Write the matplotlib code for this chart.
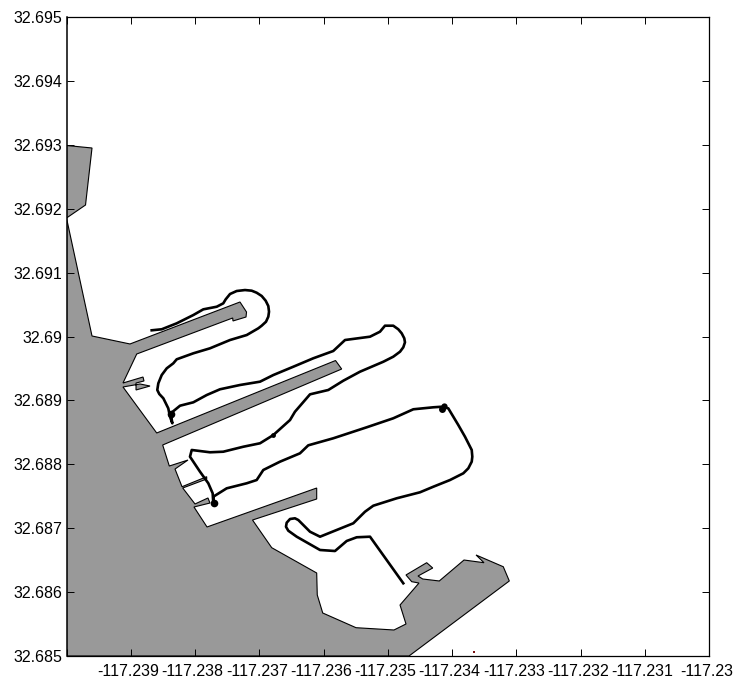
import matplotlib
matplotlib.use('Agg')
import matplotlib.pyplot as plt
from matplotlib.transforms import ScaledTranslation
import numpy as np

plt.rcParams['font.family'] = ['Liberation Sans', 'DejaVu Sans']

LON0 = -117.24
LAT0 = 32.685

# values below are thousandths of a degree from the lower left corner (LON0, LAT0)
land_lon = [0, .397, .988, 2.700, 2.802, 2.794, 2.591, 2.587, 1.093, .879, 1.191, 1.206,
            1.082, 1.082, 1.300, 1.144, .879, 1.404, 4.187, 4.283, 1.497, 1.600, 1.891,
            1.689, 1.798, 2.182, 2.182, 1.809, 2.000, 2.202, 2.233, 1.984, 2.187, 3.894,
            3.894, 2.895, 3.194, 3.894, 3.903, 3.988, 4.506, 5.097, 5.284, 5.191, 5.486,
            5.373, 5.284, 5.606, 5.700, 5.471, 5.544, 5.802, 6.187, 6.498, 6.374, 6.798,
            6.892, 5.331, 0]
land_lat = [6.854, 5.008, 4.883, 5.540, 5.383, 5.305, 5.243, 5.290, 4.726, 4.272, 4.366, 4.304,
            4.272, 4.163, 4.225, 4.257, 4.210, 3.490, 4.624, 4.491, 3.302, 2.973, 3.067,
            2.926, 2.649, 2.806, 2.770, 2.629, 2.379, 2.473, 2.394, 2.332, 2.019, 2.629,
            2.457, 2.128, 1.695, 1.299, .955, .673, .443, .407, .501, .798, 1.142,
            1.163, 1.268, 1.460, 1.377, 1.252, 1.205, 1.174, 1.502, 1.460, 1.581, 1.397,
            1.174, 0, 0]

north_lon = [0, .397, .296, 0]
north_lat = [7.989, 7.950, 7.058, 6.854]

track_lon = [1.326, 1.482, 1.715, 1.974, 2.129, 2.338, 2.440, 2.478, 2.545, 2.649, 2.778, 2.882,
             2.960, 3.038, 3.100, 3.141, 3.152, 3.141, 3.105, 3.038, 2.985, 2.805, 2.545, 2.233,
             1.974, 1.715, 1.662, 1.560, 1.482, 1.429, 1.413, 1.444, 1.507,
             1.584, 1.611, 1.647, 1.622, 1.767, 1.974, 2.182, 2.389, 2.700, 3.012, 3.219, 3.530,
             3.841, 4.152, 4.335, 4.724, 4.879, 4.957, 5.086, 5.164, 5.217, 5.257, 5.268, 5.242,
             5.191, 5.086, 4.931, 4.568,
             4.308, 4.075, 3.790, 3.556, 3.479, 3.219, 3.012, 2.752, 2.440, 2.233, 1.949, 1.922,
             2.078, 2.207, 2.275, 2.285, 2.285, 2.493, 2.805, 2.960, 3.063, 3.323, 3.634, 3.763,
             4.152, 4.672, 5.086, 5.398, 5.709, 5.840, 5.942, 6.098, 6.202, 6.307, 6.316, 6.307,
             6.254, 6.176, 5.969, 5.709,
             5.502, 5.139, 4.775, 4.646, 4.464, 3.946, 3.790, 3.608, 3.556, 3.479, 3.427, 3.416,
             3.452, 3.583, 3.946,
             4.179, 4.361, 4.517, 4.724, 5.242]
track_lat = [5.097, 5.113, 5.206, 5.336, 5.425, 5.466, 5.519, 5.582, 5.665, 5.712, 5.727, 5.717,
             5.685, 5.634, 5.560, 5.477, 5.388, 5.310, 5.231, 5.169, 5.128, 5.023, 4.945, 4.815,
             4.737, 4.643, 4.580, 4.502, 4.397, 4.267, 4.163, 4.100, 4.033,
             3.876, 3.745, 3.642, 3.798, 3.917, 3.970, 4.084, 4.174, 4.241, 4.293, 4.397, 4.527,
             4.659, 4.773, 4.945, 4.997, 5.075, 5.169, 5.169, 5.113, 5.050, 4.972, 4.909, 4.831,
             4.762, 4.684, 4.605, 4.449,
             4.308, 4.163, 4.095, 3.823, 3.693, 3.458, 3.329, 3.275, 3.197, 3.188, 3.224, 3.119,
             2.884, 2.703, 2.546, 2.390, 2.493, 2.624, 2.703, 2.754, 2.911, 3.041, 3.172, 3.297,
             3.407, 3.579, 3.720, 3.861, 3.892, 3.901, 3.876, 3.615, 3.432, 3.224, 3.119, 3.041,
             2.937, 2.859, 2.754, 2.649,
             2.562, 2.468, 2.352, 2.258, 2.077, 1.867, 1.945, 2.128, 2.155, 2.144, 2.086, 2.023,
             1.961, 1.867, 1.659,
             1.643, 1.800, 1.858, 1.867, 1.138]

# spots where the track lingers
stop_lon = [1.619, 2.288, 5.844, 5.875, 3.219]
stop_lat = [3.787, 2.394, 3.866, 3.905, 3.458]
stop_size = [5.5, 5.5, 5, 4.5, 3.5]

stray_lon = [6.35]
stray_lat = [.065]

x_ticks = [-117.24, -117.239, -117.238, -117.237, -117.236, -117.235, -117.234,
           -117.233, -117.232, -117.231, -117.23]
x_labels = ['', '-117.239', '-117.238', '-117.237', '-117.236', '-117.235', '-117.234',
            '-117.233', '-117.232', '-117.231', '-117.23']
y_ticks = [32.685, 32.686, 32.687, 32.688, 32.689, 32.69, 32.691, 32.692, 32.693, 32.694, 32.695]
y_labels = ['32.685', '32.686', '32.687', '32.688', '32.689', '32.69', '32.691', '32.692',
            '32.693', '32.694', '32.695']


def lon(v):
    return LON0 + np.array(v) * 0.001


def lat(v):
    return LAT0 + np.array(v) * 0.001


fig = plt.figure(figsize=(7.34, 6.78), dpi=100)
ax = fig.add_axes([66.5 / 734, 22 / 678, 642.5 / 734, 639 / 678])

ax.fill(lon(land_lon), lat(land_lat), facecolor='#999999', edgecolor='black', linewidth=0.8)
ax.fill(lon(north_lon), lat(north_lat), facecolor='#999999', edgecolor='black', linewidth=0.8)
ax.plot(lon(track_lon), lat(track_lat), '-', color='black', linewidth=1.9)
for x, y, s in zip(stop_lon, stop_lat, stop_size):
    ax.plot(lon([x]), lat([y]), 'o', color='black', markersize=s, markeredgewidth=0)
ax.plot(lon(stray_lon), lat(stray_lat), 's', color='#7a1010', markersize=1.5, markeredgewidth=0)

ax.set_xlim(-117.24, -117.23)
ax.set_ylim(32.685, 32.695)
ax.set_xticks(x_ticks)
ax.set_xticklabels(x_labels)
ax.set_yticks(y_ticks)
ax.set_yticklabels(y_labels)
ax.tick_params(direction='in', length=5, width=0.7, top=True, right=True,
               labelsize=11.5, colors='black', pad=3)
ax.tick_params(axis='x', pad=5.5)
# the x labels sit a little to the left of their ticks
shift = ScaledTranslation(-2.5 / 100, 0, fig.dpi_scale_trans)
for label in ax.get_xticklabels():
    label.set_transform(label.get_transform() + shift)
for side in ax.spines.values():
    side.set_linewidth(0.9)
    side.set_zorder(5)
ax.spines['left'].set_linewidth(1.1)

fig.savefig('out.png', dpi=100)
